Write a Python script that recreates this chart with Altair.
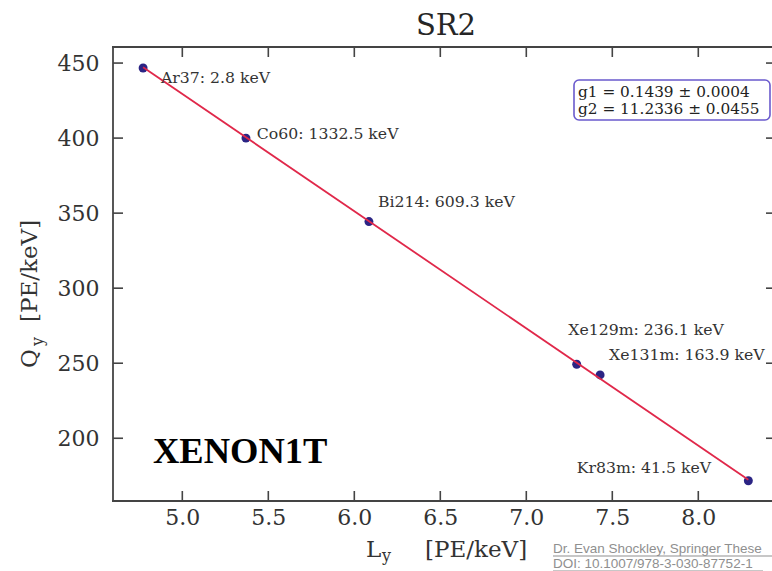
import altair as alt
import pandas as pd

# ---- data ----
isotopes = ["Ar37", "Co60", "Bi214", "Xe129m", "Xe131m", "Kr83m"]
energies = ["2.8", "1332.5", "609.3", "236.1", "163.9", "41.5"]
ly = [4.772, 5.370, 6.085, 7.293, 7.429, 8.291]
qy = [446.7, 400.0, 344.4, 249.3, 242.2, 171.7]
# annotation anchors (data coordinates, like matplotlib annotate)
label_ly = [4.876, 5.433, 6.138, 7.244, 7.481, 7.293]
label_qy = [436.9, 399.3, 354.2, 268.9, 252.2, 176.7]
fit_ly = [4.772, 8.291]
fit_qy = [447.2, 172.4]
x_ticks = [5.0, 5.5, 6.0, 6.5, 7.0, 7.5, 8.0]
y_ticks = [200, 250, 300, 350, 400, 450]
fit_text = ["g1 = 0.1439 ± 0.0004", "g2 = 11.2336 ± 0.0455"]

df = pd.DataFrame({
    "ly": ly, "qy": qy, "lx": label_ly, "lq": label_qy,
    "label": [f"{i}: {e} keV" for i, e in zip(isotopes, energies)],
})
fit_df = pd.DataFrame({"ly": fit_ly, "qy": fit_qy})
xt_df = pd.DataFrame({"ly": x_ticks})
yt_df = pd.DataFrame({"qy": y_ticks})
one = pd.DataFrame({"t": [""]})

W, H = 658, 454
SERIF = "DejaVu Serif"
INK = "#333333"
SPINE = "#444444"

xs = alt.Scale(domain=[4.597, 8.4227], nice=False, zero=False)
ys = alt.Scale(domain=[158.2, 460.7], nice=False, zero=False)

x_axis = alt.Axis(values=x_ticks, format=".1f", title=None, ticks=False, tickSize=0,
                  domain=False, grid=False, labelFont=SERIF, labelFontSize=22,
                  labelColor=INK, labelPadding=6)
y_axis = alt.Axis(values=y_ticks, format="d", title=None, ticks=False, tickSize=0,
                  domain=False, grid=False, labelFont=SERIF, labelFontSize=22,
                  labelColor=INK, labelPadding=14)

X = lambda f: alt.X(f, scale=xs, axis=x_axis, title=None)
Y = lambda f: alt.Y(f, scale=ys, axis=y_axis, title=None)

points = alt.Chart(df).mark_circle(size=80, color="#2b2484", opacity=1).encode(
    x=X("ly:Q"), y=Y("qy:Q"),
)
fit = alt.Chart(fit_df).mark_line(color="#e0284a", strokeWidth=1.8).encode(
    x=X("ly:Q"), y=Y("qy:Q"),
)
labels = alt.Chart(df).mark_text(align="left", baseline="alphabetic", font=SERIF,
                                 fontSize=15.7, color=INK).encode(
    x=X("lx:Q"), y=Y("lq:Q"), text="label:N",
)

def rule(**enc):
    return alt.Chart(one).mark_rule(color=SPINE, strokeWidth=1.8, strokeCap="square").encode(**enc)

spines = [
    rule(x=alt.value(0), y=alt.value(0), y2=alt.value(H)),
    rule(x=alt.value(0), x2=alt.value(W + 1), y=alt.value(0)),
    rule(x=alt.value(0), x2=alt.value(W + 1), y=alt.value(H)),
]

tick_style = dict(color=SPINE, strokeWidth=1.6)
ticks = [
    alt.Chart(xt_df).mark_rule(**tick_style).encode(
        x=X("ly:Q"), y=alt.value(H), y2=alt.value(H - 10)),
    alt.Chart(xt_df).mark_rule(**tick_style).encode(
        x=X("ly:Q"), y=alt.value(0), y2=alt.value(10)),
    alt.Chart(yt_df).mark_rule(**tick_style).encode(
        y=Y("qy:Q"), x=alt.value(0), x2=alt.value(10)),
    alt.Chart(yt_df).mark_rule(**tick_style).encode(
        y=Y("qy:Q"), x=alt.value(W - 5), x2=alt.value(W + 1)),
]

def txt(s, x, y, **kw):
    d = pd.DataFrame({"t": [s]})
    return alt.Chart(d).mark_text(**kw).encode(text="t:N", x=alt.value(x), y=alt.value(y))

legend_box = alt.Chart(one).mark_rect(cornerRadius=5, fill="white", stroke="#6a5acd",
                                      strokeWidth=1.6).encode(
    x=alt.value(461), x2=alt.value(657), y=alt.value(33), y2=alt.value(73))
legend_txt = [
    txt(fit_text[0], 465, 50, align="left", baseline="alphabetic", font=SERIF, fontSize=15.3, color="#222222"),
    txt(fit_text[1], 465, 67, align="left", baseline="alphabetic", font=SERIF, fontSize=15.3, color="#222222"),
]

title = txt("SR2", 333, -12, align="center", baseline="alphabetic", font=SERIF, fontSize=29, color="#262626")

x_title = [
    txt("L", 253, 510, align="left", baseline="alphabetic", font=SERIF, fontSize=23, color=INK),
    txt("y", 269, 514, align="left", baseline="alphabetic", font=SERIF, fontSize=16, color=INK),
    txt("[PE/keV]", 312, 510, align="left", baseline="alphabetic", font=SERIF, fontSize=23, color=INK),
]
y_title = [
    txt("Q", -76, 321, align="left", baseline="alphabetic", font=SERIF, fontSize=23, color=INK, angle=270),
    txt("y", -70, 299, align="left", baseline="alphabetic", font=SERIF, fontSize=16, color=INK, angle=270),
    txt("[PE/keV]", -76, 275, align="left", baseline="alphabetic", font=SERIF, fontSize=23, color=INK, angle=270),
]

xenon = txt("XENON1T", 40, 416, align="left", baseline="alphabetic", font="Liberation Serif",
            fontSize=36.5, fontWeight="bold", color="#000000")

GREY = "#8f8f8f"
credit = [
    txt("Dr. Evan Shockley, Springer These", 440, 506, align="left", baseline="alphabetic",
        font="Liberation Sans", fontSize=13.5, color=GREY),
    txt("DOI: 10.1007/978-3-030-87752-1", 440, 521, align="left", baseline="alphabetic",
        font="Liberation Sans", fontSize=13.5, color=GREY),
    alt.Chart(one).mark_rule(color=GREY, strokeWidth=1).encode(
        x=alt.value(440), x2=alt.value(W + 1), y=alt.value(509)),
    alt.Chart(one).mark_rule(color=GREY, strokeWidth=1).encode(
        x=alt.value(440), x2=alt.value(650), y=alt.value(524)),
]

chart = alt.layer(
    points, fit, labels, *spines, *ticks, legend_box, *legend_txt, title,
    *x_title, *y_title, xenon, *credit,
).properties(
    width=W, height=H,
    autosize=alt.AutoSizeParams(type="none"),
    padding={"left": 113, "top": 47, "right": 1, "bottom": 70},
    background="white",
).configure_view(stroke=None)

chart.save("out.html", embed_options={"renderer": "svg", "actions": False})
